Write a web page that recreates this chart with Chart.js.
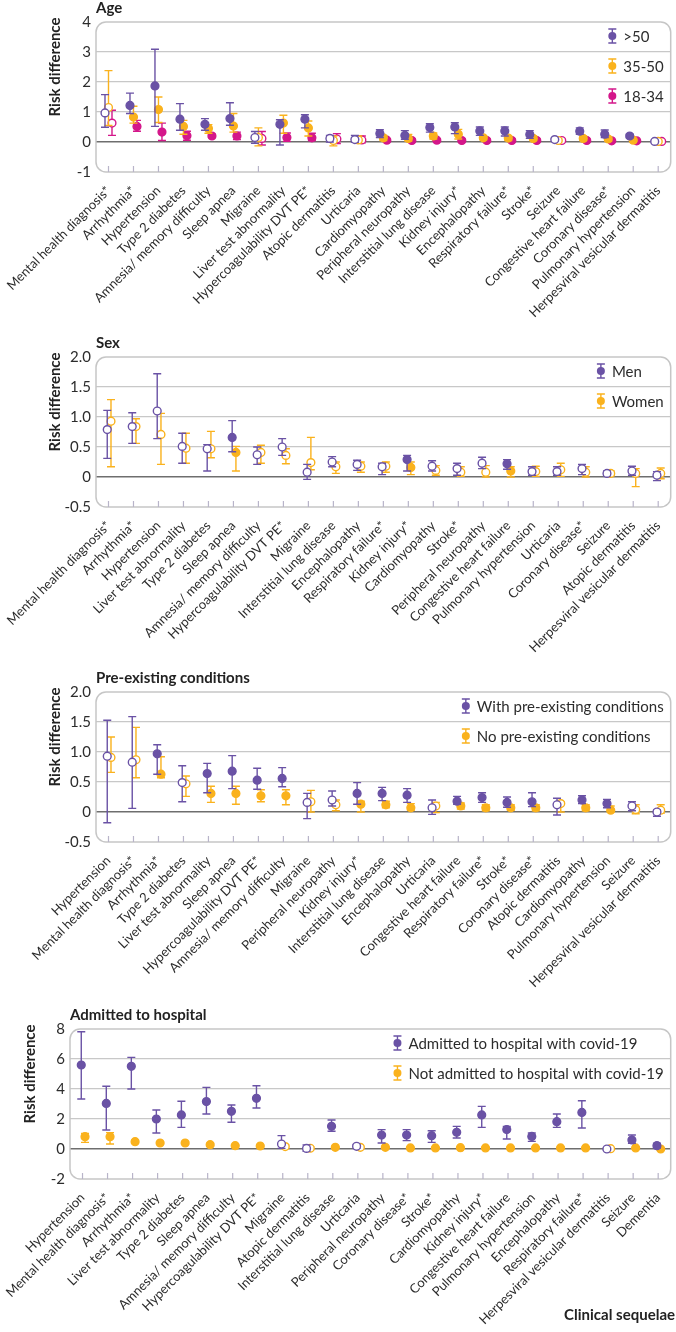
<!DOCTYPE html>
<html>
<head>
<meta charset="utf-8">
<script src="https://cdn.jsdelivr.net/npm/chart.js@4.4.0/dist/chart.umd.min.js"></script>
<style>
  html, body { margin: 0; padding: 0; background: #fff; }
  body { width: 676px; height: 1332px; position: relative; overflow: hidden; }
  canvas { position: absolute; left: 0; }
</style>
</head>
<body>
<canvas id="agePanel" width="676" height="330" style="top:0"></canvas>
<canvas id="sexPanel" width="676" height="350" style="top:320px"></canvas>
<canvas id="prePanel" width="676" height="350" style="top:640px"></canvas>
<canvas id="hospPanel" width="676" height="372" style="top:960px"></canvas>
<script>
// ---- Age ----
const ageLabels = ["Mental health diagnosis*", "Arrhythmia*", "Hypertension", "Type 2 diabetes", "Amnesia/ memory difficulty", "Sleep apnea", "Migraine", "Liver test abnormality", "Hypercoagulability DVT PE*", "Atopic dermatitis", "Urticaria", "Cardiomyopathy", "Peripheral neuropathy", "Interstitial lung disease", "Kidney injury*", "Encephalopathy", "Respiratory failure*", "Stroke*", "Seizure", "Congestive heart failure", "Coronary disease*", "Pulmonary hypertension", "Herpesviral vesicular dermatitis"];
const ageOpen = [1, 0, 0, 0, 0, 0, 1, 0, 0, 1, 1, 0, 0, 0, 0, 0, 0, 0, 1, 0, 0, 0, 1];
const ageOver50 = [0.97, 1.22, 1.87, 0.76, 0.59, 0.78, 0.15, 0.59, 0.76, 0.12, 0.08, 0.28, 0.22, 0.48, 0.50, 0.37, 0.37, 0.25, 0.08, 0.36, 0.26, 0.20, 0.02];
const ageOver50Lo = [0.49, 0.95, 0.52, 0.39, 0.39, 0.56, -0.04, -0.10, 0.47, 0.0, -0.01, 0.15, 0.09, 0.33, 0.28, 0.22, 0.20, 0.12, 0.02, 0.26, 0.15, 0.14, -0.02];
const ageOver50Hi = [1.58, 1.63, 3.09, 1.28, 0.78, 1.31, 0.35, 0.74, 0.91, 0.22, 0.22, 0.41, 0.38, 0.61, 0.64, 0.50, 0.50, 0.38, 0.12, 0.47, 0.40, 0.26, 0.05];
const age35to50 = [1.15, 0.83, 1.08, 0.52, 0.45, 0.53, 0.15, 0.63, 0.47, 0.05, 0.07, 0.14, 0.12, 0.20, 0.26, 0.14, 0.13, 0.12, 0.05, 0.12, 0.10, 0.06, 0.02];
const age35to50Lo = [0.55, 0.63, 0.65, 0.26, 0.29, 0.33, -0.13, 0.29, 0.20, -0.13, -0.03, 0.05, 0.03, 0.10, 0.10, 0.07, 0.05, 0.05, 0.0, 0.05, 0.02, 0.02, -0.02];
const age35to50Hi = [2.38, 1.19, 1.50, 0.72, 0.58, 0.95, 0.47, 0.89, 0.70, 0.20, 0.20, 0.22, 0.25, 0.30, 0.42, 0.20, 0.20, 0.20, 0.10, 0.20, 0.17, 0.10, 0.05];
const age18to34 = [0.63, 0.52, 0.33, 0.21, 0.20, 0.20, 0.12, 0.15, 0.14, 0.10, 0.07, 0.06, 0.05, 0.06, 0.05, 0.05, 0.05, 0.05, 0.05, 0.05, 0.04, 0.04, 0.02];
const age18to34Lo = [0.22, 0.36, 0.05, 0.06, 0.15, 0.08, -0.10, 0.02, 0.05, -0.05, -0.03, 0.01, 0.0, 0.02, 0.01, 0.01, 0.01, 0.01, 0.0, 0.01, 0.0, 0.0, -0.01];
const age18to34Hi = [1.06, 0.72, 0.63, 0.36, 0.26, 0.33, 0.35, 0.30, 0.29, 0.28, 0.20, 0.10, 0.10, 0.11, 0.10, 0.10, 0.10, 0.09, 0.09, 0.09, 0.08, 0.08, 0.05];

// ---- Sex ----
const sexLabels = ["Mental health diagnosis*", "Arrhythmia*", "Hypertension", "Liver test abnormality", "Type 2 diabetes", "Sleep apnea", "Amnesia/ memory difficulty", "Hypercoagulability DVT PE*", "Migraine", "Interstitial lung disease", "Encephalopathy", "Respiratory failure*", "Kidney injury*", "Cardiomyopathy", "Stroke*", "Peripheral neuropathy", "Congestive heart failure", "Pulmonary hypertension", "Urticaria", "Coronary disease*", "Seizure", "Atopic dermatitis", "Herpesviral vesicular dermatitis"];
const sexOpen = [1, 1, 1, 1, 1, 0, 1, 1, 1, 1, 1, 1, 0, 1, 1, 1, 0, 1, 1, 1, 1, 1, 1];
const men = [0.79, 0.84, 1.10, 0.51, 0.47, 0.66, 0.37, 0.50, 0.08, 0.25, 0.21, 0.17, 0.29, 0.18, 0.14, 0.23, 0.22, 0.09, 0.09, 0.14, 0.06, 0.10, 0.03];
const menLo = [0.31, 0.56, 0.64, 0.23, 0.10, 0.42, 0.21, 0.36, -0.04, 0.17, 0.11, 0.04, 0.10, 0.10, 0.03, 0.14, 0.13, 0.03, 0.03, 0.04, 0.02, 0.03, -0.06];
const menHi = [1.11, 1.07, 1.72, 0.73, 0.54, 0.94, 0.50, 0.64, 0.21, 0.34, 0.28, 0.23, 0.36, 0.27, 0.23, 0.33, 0.29, 0.17, 0.17, 0.21, 0.10, 0.18, 0.09];
const women = [0.93, 0.84, 0.71, 0.48, 0.47, 0.41, 0.41, 0.36, 0.24, 0.17, 0.18, 0.18, 0.16, 0.11, 0.08, 0.08, 0.10, 0.09, 0.12, 0.08, 0.06, 0.06, 0.06];
const womenLo = [0.17, 0.56, 0.21, 0.23, 0.32, 0.10, 0.23, 0.22, 0.12, 0.06, 0.08, 0.08, 0.04, 0.03, 0.01, 0.0, 0.0, 0.01, 0.01, 0.0, 0.02, -0.16, -0.03];
const womenHi = [1.29, 0.97, 1.06, 0.73, 0.76, 0.51, 0.53, 0.47, 0.66, 0.25, 0.25, 0.25, 0.25, 0.19, 0.17, 0.19, 0.17, 0.18, 0.23, 0.17, 0.10, 0.14, 0.15];

// ---- Pre-existing conditions ----
const preLabels = ["Hypertension", "Mental health diagnosis*", "Arrhythmia*", "Type 2 diabetes", "Liver test abnormality", "Sleep apnea", "Hypercoagulability DVT PE*", "Amnesia/ memory difficulty", "Migraine", "Peripheral neuropathy", "Kidney injury*", "Interstitial lung disease", "Encephalopathy", "Urticaria", "Congestive heart failure", "Respiratory failure*", "Stroke*", "Coronary disease*", "Atopic dermatitis", "Cardiomyopathy", "Pulmonary hypertension", "Seizure", "Herpesviral vesicular dermatitis"];
const preOpen = [1, 1, 0, 1, 0, 0, 0, 0, 1, 1, 0, 0, 0, 1, 0, 0, 0, 0, 1, 0, 0, 1, 1];
const withPre = [0.93, 0.83, 0.97, 0.49, 0.64, 0.68, 0.53, 0.56, 0.16, 0.20, 0.31, 0.31, 0.28, 0.07, 0.18, 0.24, 0.16, 0.17, 0.12, 0.20, 0.14, 0.10, 0.0];
const withPreLo = [-0.18, 0.06, 0.63, 0.17, 0.32, 0.39, 0.38, 0.42, -0.11, 0.10, 0.13, 0.19, 0.16, -0.04, 0.13, 0.16, 0.08, 0.09, -0.05, 0.14, 0.07, 0.02, -0.07];
const withPreHi = [1.53, 1.59, 1.12, 0.77, 0.81, 0.94, 0.73, 0.74, 0.31, 0.35, 0.49, 0.41, 0.39, 0.20, 0.26, 0.32, 0.25, 0.32, 0.23, 0.27, 0.21, 0.17, 0.04];
const noPre = [0.91, 0.87, 0.63, 0.47, 0.31, 0.31, 0.27, 0.27, 0.17, 0.12, 0.13, 0.12, 0.07, 0.10, 0.10, 0.07, 0.07, 0.07, 0.14, 0.07, 0.03, 0.04, 0.03];
const noPreLo = [0.66, 0.57, 0.57, 0.26, 0.16, 0.13, 0.17, 0.12, 0.0, 0.02, 0.0, 0.07, 0.03, -0.01, 0.05, 0.02, 0.03, 0.02, 0.0, 0.02, 0.0, -0.03, -0.02];
const noPreHi = [1.25, 1.41, 0.92, 0.60, 0.43, 0.43, 0.37, 0.37, 0.36, 0.20, 0.18, 0.18, 0.14, 0.16, 0.15, 0.12, 0.12, 0.12, 0.17, 0.12, 0.10, 0.12, 0.12];

// ---- Admitted to hospital ----
const hospLabels = ["Hypertension", "Mental health diagnosis*", "Arrhythmia*", "Liver test abnormality", "Type 2 diabetes", "Sleep apnea", "Amnesia/ memory difficulty", "Hypercoagulability DVT PE*", "Migraine", "Atopic dermatitis", "Interstitial lung disease", "Urticaria", "Peripheral neuropathy", "Coronary disease*", "Stroke*", "Cardiomyopathy", "Kidney injury*", "Congestive heart failure", "Pulmonary hypertension", "Encephalopathy", "Respiratory failure*", "Herpesviral vesicular dermatitis", "Seizure", "Dementia"];
const hospOpen = [0, 0, 0, 0, 0, 0, 0, 0, 1, 1, 0, 1, 0, 0, 0, 0, 0, 0, 0, 0, 0, 1, 0, 0];
const admitted = [5.6, 3.04, 5.51, 2.0, 2.27, 3.16, 2.51, 3.38, 0.33, 0.04, 1.51, 0.18, 0.93, 0.93, 0.89, 1.11, 2.27, 1.3, 0.84, 1.82, 2.44, 0.0, 0.6, 0.22];
const admittedLo = [3.33, 1.27, 4.0, 1.07, 1.44, 2.33, 1.78, 2.73, 0.04, -0.16, 1.18, 0.05, 0.4, 0.56, 0.44, 0.73, 1.44, 0.67, 0.51, 1.44, 1.4, -0.05, 0.38, 0.07];
const admittedHi = [7.82, 4.18, 6.11, 2.6, 3.18, 4.11, 2.93, 4.22, 0.89, 0.27, 1.93, 0.3, 1.29, 1.29, 1.22, 1.51, 2.84, 1.51, 1.07, 2.33, 3.22, 0.05, 0.93, 0.38];
const notAdmitted = [0.82, 0.82, 0.49, 0.4, 0.4, 0.29, 0.22, 0.2, 0.16, 0.05, 0.11, 0.11, 0.11, 0.07, 0.07, 0.09, 0.07, 0.07, 0.07, 0.07, 0.07, 0.02, 0.07, 0.0];
const notAdmittedLo = [0.44, 0.33, 0.42, 0.35, 0.33, 0.22, 0.17, 0.15, 0.05, -0.05, 0.08, 0.05, 0.07, 0.04, 0.04, 0.05, 0.04, 0.04, 0.04, 0.04, 0.04, -0.03, 0.04, -0.03];
const notAdmittedHi = [1.04, 1.09, 0.58, 0.47, 0.5, 0.38, 0.27, 0.25, 0.27, 0.15, 0.15, 0.17, 0.15, 0.1, 0.1, 0.13, 0.1, 0.1, 0.1, 0.1, 0.1, 0.07, 0.1, 0.04];

const PURPLE = "#6a52a5";
const ORANGE = "#fab21d";
const PINK = "#d4178a";
const FONT = "Lato, 'Open Sans', sans-serif";
const TEXT = "#2c2c2c";

// one series of point estimates with their confidence limits
function series(label, color, values, lo, hi, open, shift) {
  return {
    label: label,
    data: values.map((v, i) => ({ x: i + shift, y: v })),
    errLow: lo,
    errHigh: hi,
    showLine: false,
    borderColor: color,
    backgroundColor: color,
    pointBackgroundColor: open.map((o) => (o ? "#ffffff" : color)),
    pointBorderColor: color,
    pointBorderWidth: 1.4,
    pointRadius: 3.9,
    pointHoverRadius: 3.9,
  };
}

// frame, error bars, titles and the in-plot legend
const panelDecor = {
  id: "panelDecor",
  beforeDatasetsDraw(chart, args, opts) {
    const { ctx, chartArea } = chart;
    const { left, top, right, bottom } = chartArea;
    ctx.save();
    ctx.strokeStyle = "#c6c6c6";
    ctx.lineWidth = 1.5;
    ctx.beginPath();
    ctx.roundRect(left, top, right - left, bottom - top, 10);
    ctx.stroke();
    // short category ticks pointing into the plot
    const xs = chart.scales.x;
    ctx.strokeStyle = "#b8b4c9";
    ctx.lineWidth = 1.2;
    opts.labels.forEach((_, i) => {
      const x = xs.getPixelForValue(i);
      ctx.beginPath();
      ctx.moveTo(x, bottom);
      ctx.lineTo(x, bottom - 6);
      ctx.stroke();
    });
    ctx.restore();
  },
  beforeDatasetDraw(chart, args) {
    const { ctx } = chart;
    const ds = chart.data.datasets[args.index];
    const ys = chart.scales.y;
    ctx.save();
    ctx.strokeStyle = ds.borderColor;
    ctx.lineWidth = 1.4;
    args.meta.data.forEach((pt, i) => {
      const yl = ys.getPixelForValue(ds.errLow[i]);
      const yh = ys.getPixelForValue(ds.errHigh[i]);
      ctx.beginPath();
      ctx.moveTo(pt.x, yl);
      ctx.lineTo(pt.x, yh);
      ctx.moveTo(pt.x - 4, yl);
      ctx.lineTo(pt.x + 4, yl);
      ctx.moveTo(pt.x - 4, yh);
      ctx.lineTo(pt.x + 4, yh);
      ctx.stroke();
    });
    ctx.restore();
  },
  afterDraw(chart, args, opts) {
    const { ctx, chartArea } = chart;
    const { left, top, right, bottom } = chartArea;
    ctx.save();
    // panel title
    ctx.fillStyle = "#222";
    ctx.font = `bold 15px ${FONT}`;
    ctx.textAlign = "left";
    ctx.textBaseline = "alphabetic";
    ctx.fillText(opts.title, left, top - 9);
    // y axis title
    ctx.save();
    ctx.translate(opts.yTitleX, (top + bottom) / 2 - 30);
    ctx.rotate(-Math.PI / 2);
    ctx.textAlign = "center";
    ctx.textBaseline = "middle";
    ctx.fillText("Risk difference", 0, 0);
    ctx.restore();
    // legend
    const sets = chart.data.datasets;
    ctx.font = `15px ${FONT}`;
    const maxW = Math.max(...sets.map((d) => ctx.measureText(d.label).width));
    const textX = right - 7 - maxW;
    const symX = textX - 11;
    sets.forEach((d, k) => {
      const y = top + 14 + 30 * k;
      ctx.strokeStyle = d.borderColor;
      ctx.lineWidth = 1.4;
      ctx.beginPath();
      ctx.moveTo(symX, y - 7);
      ctx.lineTo(symX, y + 7);
      ctx.moveTo(symX - 4, y - 7);
      ctx.lineTo(symX + 4, y - 7);
      ctx.moveTo(symX - 4, y + 7);
      ctx.lineTo(symX + 4, y + 7);
      ctx.stroke();
      ctx.fillStyle = d.borderColor;
      ctx.beginPath();
      ctx.arc(symX, y, 4, 0, Math.PI * 2);
      ctx.fill();
      ctx.fillStyle = TEXT;
      ctx.textAlign = "left";
      ctx.textBaseline = "middle";
      ctx.fillText(d.label, textX, y + 1);
    });
    if (opts.footer) {
      ctx.fillStyle = "#222";
      ctx.font = `bold 15px ${FONT}`;
      ctx.textAlign = "right";
      ctx.textBaseline = "alphabetic";
      ctx.fillText(opts.footer, 675, chart.height - 12);
    }
    ctx.restore();
  },
};

function makePanel(id, cfg) {
  const yMin = cfg.yMin;
  const yMax = cfg.yMax;
  return new Chart(document.getElementById(id), {
    type: "scatter",
    data: { datasets: cfg.datasets },
    options: {
      responsive: false,
      animation: false,
      events: [],
      layout: { padding: { top: cfg.plotTop, right: 2, left: 0, bottom: 0 } },
      plugins: {
        legend: { display: false },
        tooltip: { enabled: false },
        panelDecor: {
          labels: cfg.labels,
          title: cfg.title,
          yTitleX: cfg.yTitleX,
          footer: cfg.footer,
        },
      },
      scales: {
        x: {
          type: "linear",
          min: -0.5,
          max: cfg.labels.length - 0.5,
          afterBuildTicks: (axis) => {
            axis.ticks = cfg.labels.map((_, i) => ({ value: i }));
          },
          afterFit: (axis) => {
            axis.height = cfg.height - cfg.plotBottom;
            axis.paddingLeft = 0;
            axis.paddingRight = 0;
          },
          grid: { display: false },
          border: { display: false },
          ticks: {
            autoSkip: false,
            maxRotation: 45,
            minRotation: 45,
            padding: 3,
            color: TEXT,
            font: { family: FONT, size: 13 },
            callback: (v) => cfg.labels[v],
          },
        },
        y: {
          min: yMin,
          max: yMax,
          afterFit: (axis) => {
            axis.width = cfg.plotLeft;
            axis.paddingTop = 0;
            axis.paddingBottom = 0;
          },
          border: { display: false },
          grid: {
            drawTicks: false,
            color: (c) => {
              const v = c.tick.value;
              if (v === yMin || v === yMax) return "rgba(0,0,0,0)";
              return v === 0 ? "#6e6e6e" : "#c8c8c8";
            },
            lineWidth: (c) => (c.tick.value === 0 ? 1.6 : 1.2),
          },
          ticks: {
            stepSize: cfg.yStep,
            padding: 5,
            color: TEXT,
            font: { family: FONT, size: 15 },
            callback: cfg.yFormat,
          },
        },
      },
    },
    plugins: [panelDecor],
  });
}

const halfFormat = (v) => (v === 0 ? "0" : v.toFixed(1));
const intFormat = (v) => String(v);

makePanel("agePanel", {
  title: "Age",
  labels: ageLabels,
  height: 330, plotTop: 22, plotBottom: 172, plotLeft: 96, yTitleX: 55,
  yMin: -1, yMax: 4, yStep: 1, yFormat: intFormat,
  datasets: [
    series(">50", PURPLE, ageOver50, ageOver50Lo, ageOver50Hi, ageOpen, -0.14),
    series("35-50", ORANGE, age35to50, age35to50Lo, age35to50Hi, ageOpen, 0),
    series("18-34", PINK, age18to34, age18to34Lo, age18to34Hi, ageOpen, 0.14),
  ],
});

makePanel("sexPanel", {
  title: "Sex",
  labels: sexLabels,
  height: 350, plotTop: 37, plotBottom: 187, plotLeft: 96, yTitleX: 55,
  yMin: -0.5, yMax: 2, yStep: 0.5, yFormat: halfFormat,
  datasets: [
    series("Men", PURPLE, men, menLo, menHi, sexOpen, -0.05),
    series("Women", ORANGE, women, womenLo, womenHi, sexOpen, 0.1),
  ],
});

makePanel("prePanel", {
  title: "Pre-existing conditions",
  labels: preLabels,
  height: 350, plotTop: 52, plotBottom: 202, plotLeft: 96, yTitleX: 55,
  yMin: -0.5, yMax: 2, yStep: 0.5, yFormat: halfFormat,
  datasets: [
    series("With pre-existing conditions", PURPLE, withPre, withPreLo, withPreHi, preOpen, -0.05),
    series("No pre-existing conditions", ORANGE, noPre, noPreLo, noPreHi, preOpen, 0.1),
  ],
});

makePanel("hospPanel", {
  title: "Admitted to hospital",
  labels: hospLabels,
  height: 372, plotTop: 69, plotBottom: 219, plotLeft: 70, yTitleX: 30,
  yMin: -2, yMax: 8, yStep: 2, yFormat: intFormat,
  footer: "Clinical sequelae",
  datasets: [
    series("Admitted to hospital with covid-19", PURPLE, admitted, admittedLo, admittedHi, hospOpen, -0.05),
    series("Not admitted to hospital with covid-19", ORANGE, notAdmitted, notAdmittedLo, notAdmittedHi, hospOpen, 0.1),
  ],
});
</script>
</body>
</html>
